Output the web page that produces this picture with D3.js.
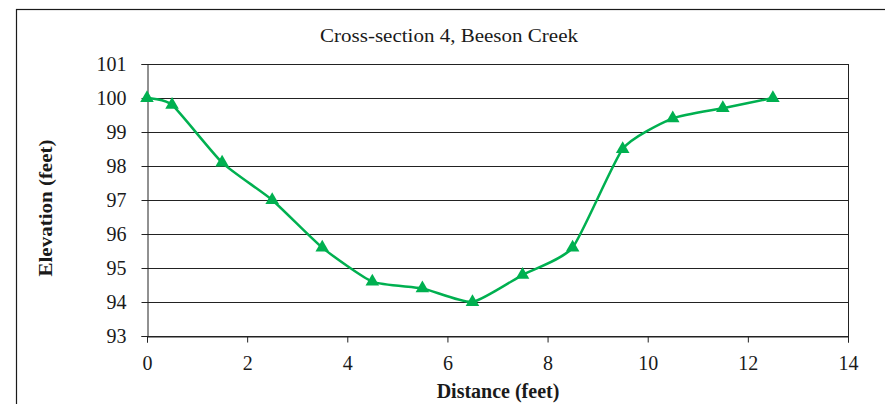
<!DOCTYPE html>
<html>
<head>
<meta charset="utf-8">
<script src="https://cdn.jsdelivr.net/npm/d3@7"></script>
<style>
  body { margin: 0; background: #fff; }
  svg text { font-family: "Liberation Serif", "Times New Roman", serif; fill: #1a1a1a; }
</style>
</head>
<body>
<div id="chart"></div>
<script>
// Cross-section data (distance in feet, elevation in feet)
const distance = [0, 0.5, 1.5, 2.5, 3.5, 4.5, 5.5, 6.5, 7.5, 8.5, 9.5, 10.5, 11.5, 12.5];
const elevation = [100, 99.8, 98.1, 97.0, 95.6, 94.6, 94.4, 94.0, 94.8, 95.6, 98.5, 99.4, 99.7, 100];
const xTicks = [0, 2, 4, 6, 8, 10, 12, 14];
const yTicks = [93, 94, 95, 96, 97, 98, 99, 100, 101];

const width = 885, height = 404;
const margin = { top: 64, right: 37, bottom: 68, left: 147 };

const svg = d3.select('#chart')
    .append('svg')
    .attr('width', width)
    .attr('height', height);

// outer chart frame
svg.append('rect')
    .attr('x', 16.5).attr('y', 9.5)
    .attr('width', 900).attr('height', 420)
    .attr('fill', 'none')
    .attr('stroke', '#1a1a1a')
    .attr('stroke-width', 1.2);

const x = d3.scaleLinear().domain([0, 14]).range([margin.left, width - margin.right]);
const y = d3.scaleLinear().domain([93, 101]).range([height - margin.bottom, margin.top]);

// horizontal gridlines
svg.append('g')
    .selectAll('line')
    .data(yTicks)
    .join('line')
    .attr('x1', x(0)).attr('x2', x(14))
    .attr('y1', d => Math.round(y(d)) + 0.5)
    .attr('y2', d => Math.round(y(d)) + 0.5)
    .attr('stroke', '#222')
    .attr('stroke-width', 1);

// right border of plot area
svg.append('line')
    .attr('x1', Math.round(x(14)) + 0.5).attr('x2', Math.round(x(14)) + 0.5)
    .attr('y1', y(101)).attr('y2', y(93) + 6)
    .attr('stroke', '#222');

// y axis
const yAxis = svg.append('g')
    .attr('transform', `translate(${Math.round(x(0)) + 0.5},0)`)
    .call(d3.axisLeft(y).tickValues(yTicks).tickSize(6).tickPadding(15).tickFormat(d3.format('d')));
yAxis.select('.domain').attr('stroke', '#222');
yAxis.selectAll('.tick line').attr('stroke', '#222');
yAxis.selectAll('.tick text')
    .attr('font-size', 20)
    .attr('font-family', '"Liberation Serif", serif')
    .attr('fill', '#1a1a1a');

// x axis
const xAxis = svg.append('g')
    .attr('transform', `translate(0,${Math.round(y(93)) + 0.5})`)
    .call(d3.axisBottom(x).tickValues(xTicks).tickSize(6).tickPadding(13).tickFormat(d3.format('d')));
xAxis.select('.domain').attr('stroke', '#222');
xAxis.selectAll('.tick line').attr('stroke', '#222');
xAxis.selectAll('.tick text')
    .attr('font-size', 20)
    .attr('font-family', '"Liberation Serif", serif')
    .attr('fill', '#1a1a1a');

// lightly smoothed line
const pts = distance.map((d, i) => [d, elevation[i]]);
const line = d3.line()
    .x(d => x(d[0]))
    .y(d => y(d[1]))
    .curve(d3.curveCardinal.tension(0.45));

svg.append('path')
    .datum(pts)
    .attr('d', line)
    .attr('fill', 'none')
    .attr('stroke', '#00b050')
    .attr('stroke-width', 2.5);

// triangle markers
svg.append('g')
    .selectAll('path')
    .data(pts)
    .join('path')
    .attr('transform', d => `translate(${x(d[0])},${y(d[1])})`)
    .attr('d', d3.symbol(d3.symbolTriangle, 80))
    .attr('fill', '#00b050');

// title
svg.append('text')
    .attr('x', 449).attr('y', 42)
    .attr('text-anchor', 'middle')
    .attr('font-size', 18)
    .attr('textLength', 258)
    .attr('lengthAdjust', 'spacingAndGlyphs')
    .text('Cross-section 4, Beeson Creek');

// axis titles
svg.append('text')
    .attr('x', 498).attr('y', 398)
    .attr('text-anchor', 'middle')
    .attr('font-size', 20)
    .attr('font-weight', 'bold')
    .text('Distance (feet)');

svg.append('text')
    .attr('transform', 'translate(52,208) rotate(-90)')
    .attr('text-anchor', 'middle')
    .attr('font-size', 18)
    .attr('font-weight', 'bold')
    .attr('textLength', 137)
    .attr('lengthAdjust', 'spacingAndGlyphs')
    .text('Elevation (feet)');
</script>
</body>
</html>
